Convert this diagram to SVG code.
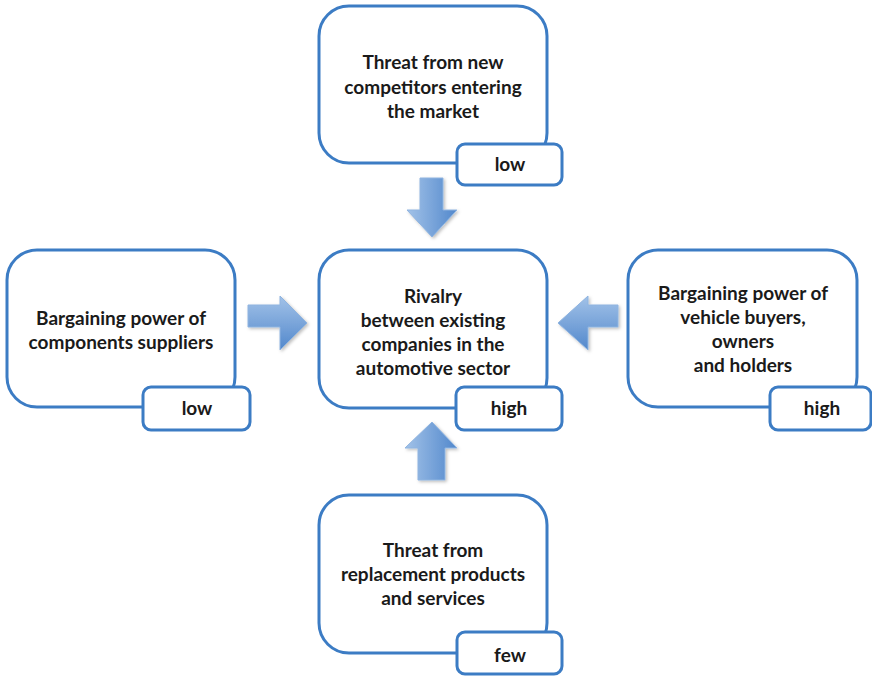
<svg xmlns="http://www.w3.org/2000/svg" width="872" height="676" viewBox="0 0 872 676">
  <defs>
    <style>
      .box { fill: #ffffff; stroke: #3c7cc4; stroke-width: 3; }
      .tag { fill: #ffffff; stroke: #3c7cc4; stroke-width: 3; }
      .txt { font-family: Lato, "Open Sans", sans-serif; font-weight: bold; font-size: 19px; fill: #1a1a1a; text-anchor: middle; }
      .arrow { stroke: #8fb4e0; stroke-width: 1; }
      .arrow-v { fill: url(#gradV); }
      .arrow-h { fill: url(#gradH); }
    </style>
    <linearGradient id="gradV" x1="0" y1="0" x2="1" y2="0">
      <stop offset="0" stop-color="#a2c2e8"/>
      <stop offset="1" stop-color="#5288cc"/>
    </linearGradient>
    <linearGradient id="gradH" x1="0" y1="0" x2="0" y2="1">
      <stop offset="0" stop-color="#a2c2e8"/>
      <stop offset="1" stop-color="#5288cc"/>
    </linearGradient>
    <filter id="shadow" x="-20%" y="-20%" width="140%" height="140%">
      <feDropShadow dx="1.5" dy="1.5" stdDeviation="1.5" flood-color="#000000" flood-opacity="0.25"/>
    </filter>
  </defs>

  <rect width="872" height="676" fill="#ffffff"/>

  <!-- connectors: block arrows pointing at the central box -->
  <g id="connectors" filter="url(#shadow)">
    <path class="arrow arrow-v" d="M420,178 H443 V210 H457 L432,237 L407,210 H420 Z"/>
    <path class="arrow arrow-v" d="M418,480 H445 V448 H457 L432,422 L405,448 H418 Z"/>
    <path class="arrow arrow-h" d="M248,305 H280 V296 L307,323 L280,350 V327 H248 Z"/>
    <path class="arrow arrow-h" d="M618,305 H588 V296 L558,323 L588,350 V327 H618 Z"/>
  </g>

  <g id="node-new-competitors">
    <rect class="box" x="319" y="6" width="228" height="157" rx="30"/>
    <text class="txt" x="433" y="69">Threat from new</text>
    <text class="txt" x="433" y="94">competitors entering</text>
    <text class="txt" x="433" y="118">the market</text>
    <rect class="tag" x="457" y="144" width="105" height="41" rx="8"/>
    <text class="txt" x="510" y="171">low</text>
  </g>

  <g id="node-rivalry">
    <rect class="box" x="319" y="250" width="228" height="158" rx="30"/>
    <text class="txt" x="433" y="303">Rivalry</text>
    <text class="txt" x="433" y="327">between existing</text>
    <text class="txt" x="433" y="351">companies in the</text>
    <text class="txt" x="433" y="375">automotive sector</text>
    <rect class="tag" x="456" y="387" width="106" height="43" rx="8"/>
    <text class="txt" x="509" y="415">high</text>
  </g>

  <g id="node-suppliers">
    <rect class="box" x="7" y="250" width="228" height="157" rx="30"/>
    <text class="txt" x="121" y="325">Bargaining power of</text>
    <text class="txt" x="121" y="349">components suppliers</text>
    <rect class="tag" x="143" y="387" width="107" height="43" rx="8"/>
    <text class="txt" x="197" y="415">low</text>
  </g>

  <g id="node-buyers">
    <rect class="box" x="628" y="250" width="229" height="157" rx="30"/>
    <text class="txt" x="743" y="300">Bargaining power of</text>
    <text class="txt" x="743" y="324">vehicle buyers,</text>
    <text class="txt" x="743" y="348">owners</text>
    <text class="txt" x="743" y="372">and holders</text>
    <rect class="tag" x="770" y="387" width="101" height="43" rx="8"/>
    <text class="txt" x="822" y="415">high</text>
  </g>

  <g id="node-substitutes">
    <rect class="box" x="319" y="495" width="228" height="158" rx="30"/>
    <text class="txt" x="433" y="557">Threat from</text>
    <text class="txt" x="433" y="581">replacement products</text>
    <text class="txt" x="433" y="605">and services</text>
    <rect class="tag" x="457" y="632" width="105" height="42" rx="8"/>
    <text class="txt" x="510" y="662">few</text>
  </g>
</svg>
